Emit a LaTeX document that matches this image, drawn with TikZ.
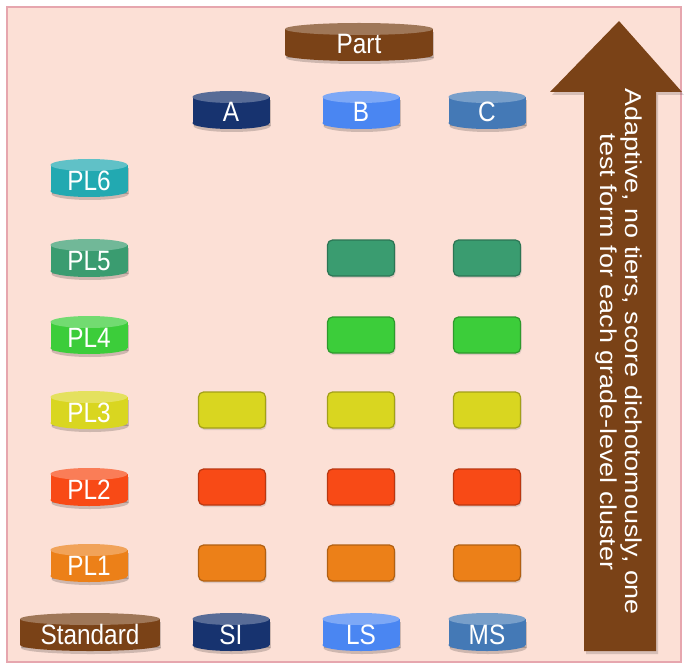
\documentclass[tikz,border=0pt]{standalone}
\usepackage{fontspec}
\setmainfont{Liberation Sans}
\newfontfamily\lblfont[FakeStretch=0.87]{Liberation Sans}
\newfontfamily\arrowfont[FakeStretch=1.17]{Liberation Sans}
\usetikzlibrary{shadows}
\definecolor{bgpink}{HTML}{FCE0D6}
\definecolor{bgline}{HTML}{E6A6AE}
\definecolor{brown}{HTML}{7A4217}
\definecolor{navy}{HTML}{17336F}
\definecolor{bblue}{HTML}{4A86F2}
\definecolor{sblue}{HTML}{4479B6}
\definecolor{teal}{HTML}{22A9B1}
\definecolor{pfive}{HTML}{3A9C70}
\definecolor{pfour}{HTML}{3CCD3A}
\definecolor{pthree}{HTML}{D9D620}
\definecolor{ptwo}{HTML}{F84A16}
\definecolor{pone}{HTML}{EC8018}
\newcommand\mycyl[7]{%
  \pgfmathsetmacro\cylL{#2-#4/2}%
  \pgfmathsetmacro\cylR{#2+#4/2}%
  \pgfmathsetmacro\cylT{#3-#5/2+6}%
  \pgfmathsetmacro\cylB{#3+#5/2-6}%
  \pgfmathsetmacro\cylRX{#4/2}%
  \fill[black,opacity=0.18] (\cylL+1,\cylT+3) rectangle (\cylR+1,\cylB+3);
  \fill[black,opacity=0.18] (#2+1,\cylB+3) ellipse [x radius=\cylRX pt, y radius=6pt];
  \fill[#6] (\cylL,\cylT) rectangle (\cylR,\cylB);
  \fill[#6] (#2,\cylB) ellipse [x radius=\cylRX pt, y radius=6pt];
  \fill[#6!72!white] (#2,\cylT) ellipse [x radius=\cylRX pt, y radius=6pt];
  \node[lbl, anchor=base] (#1) at (#2,#3+12) {#7};
}
\tikzset{
  lbl/.style={text=white, font=\lblfont\fontsize{28}{30}\selectfont, inner sep=0pt},
  cell/.style={draw=#1!75!black, line width=1.2pt, fill=#1, rounded corners=5pt,
    minimum width=67pt, minimum height=36pt,
    drop shadow={opacity=0.25, shadow xshift=1pt, shadow yshift=-2pt}},
}
\begin{document}
\begin{tikzpicture}[x=1pt,y=-1pt]
\useasboundingbox (0,0) rectangle (684,668);
\draw[fill=bgpink, draw=bgline, line width=1.5pt] (7,7) rectangle (681,662);
% arrow
\fill[black,opacity=0.15] (586,654) -- (658,654) -- (658,95) -- (684,95) -- (621,24) -- (552,95) -- (586,95) -- cycle;
\fill[brown] (584,651) -- (656,651) -- (656,92) -- (682,92) -- (619,21) -- (550,92) -- (584,92) -- cycle;
\node[text=white, rotate=-90, align=center, font=\arrowfont\fontsize{23}{25}\selectfont, inner sep=0pt] (note) at (619,352)
  {Adaptive, no tiers, score dichotomously, one\\test form for each grade-level cluster};
% header cylinders
\mycyl{part}{359}{42}{148}{38}{brown}{Part}
\mycyl{A}{231}{110}{77}{38}{navy}{A}
\mycyl{B}{361}{110}{77}{38}{bblue}{B}
\mycyl{C}{487}{110}{77}{38}{sblue}{C}
% PL cylinders
\mycyl{pl6}{89}{178}{77}{38}{teal}{PL6}
\mycyl{pl5}{89}{258}{77}{38}{pfive}{PL5}
\mycyl{pl4}{89}{335}{77}{38}{pfour}{PL4}
\mycyl{pl3}{89}{410}{77}{38}{pthree}{PL3}
\mycyl{pl2}{89}{487}{77}{38}{ptwo}{PL2}
\mycyl{pl1}{89}{563}{77}{38}{pone}{PL1}
% bottom cylinders
\mycyl{std}{90}{632}{140}{38}{brown}{Standard}
\mycyl{SI}{231}{632}{77}{38}{navy}{SI}
\mycyl{LS}{361}{632}{77}{38}{bblue}{LS}
\mycyl{MS}{487}{632}{77}{38}{sblue}{MS}
% cells
\node[cell=pfive] (b5) at (361,258) {};
\node[cell=pfive] (c5) at (487,258) {};
\node[cell=pfour] (b4) at (361,335) {};
\node[cell=pfour] (c4) at (487,335) {};
\node[cell=pthree] (a3) at (232,410) {};
\node[cell=pthree] (b3) at (361,410) {};
\node[cell=pthree] (c3) at (487,410) {};
\node[cell=ptwo] (a2) at (232,487) {};
\node[cell=ptwo] (b2) at (361,487) {};
\node[cell=ptwo] (c2) at (487,487) {};
\node[cell=pone] (a1) at (232,563) {};
\node[cell=pone] (b1) at (361,563) {};
\node[cell=pone] (c1) at (487,563) {};
\end{tikzpicture}
\end{document}
